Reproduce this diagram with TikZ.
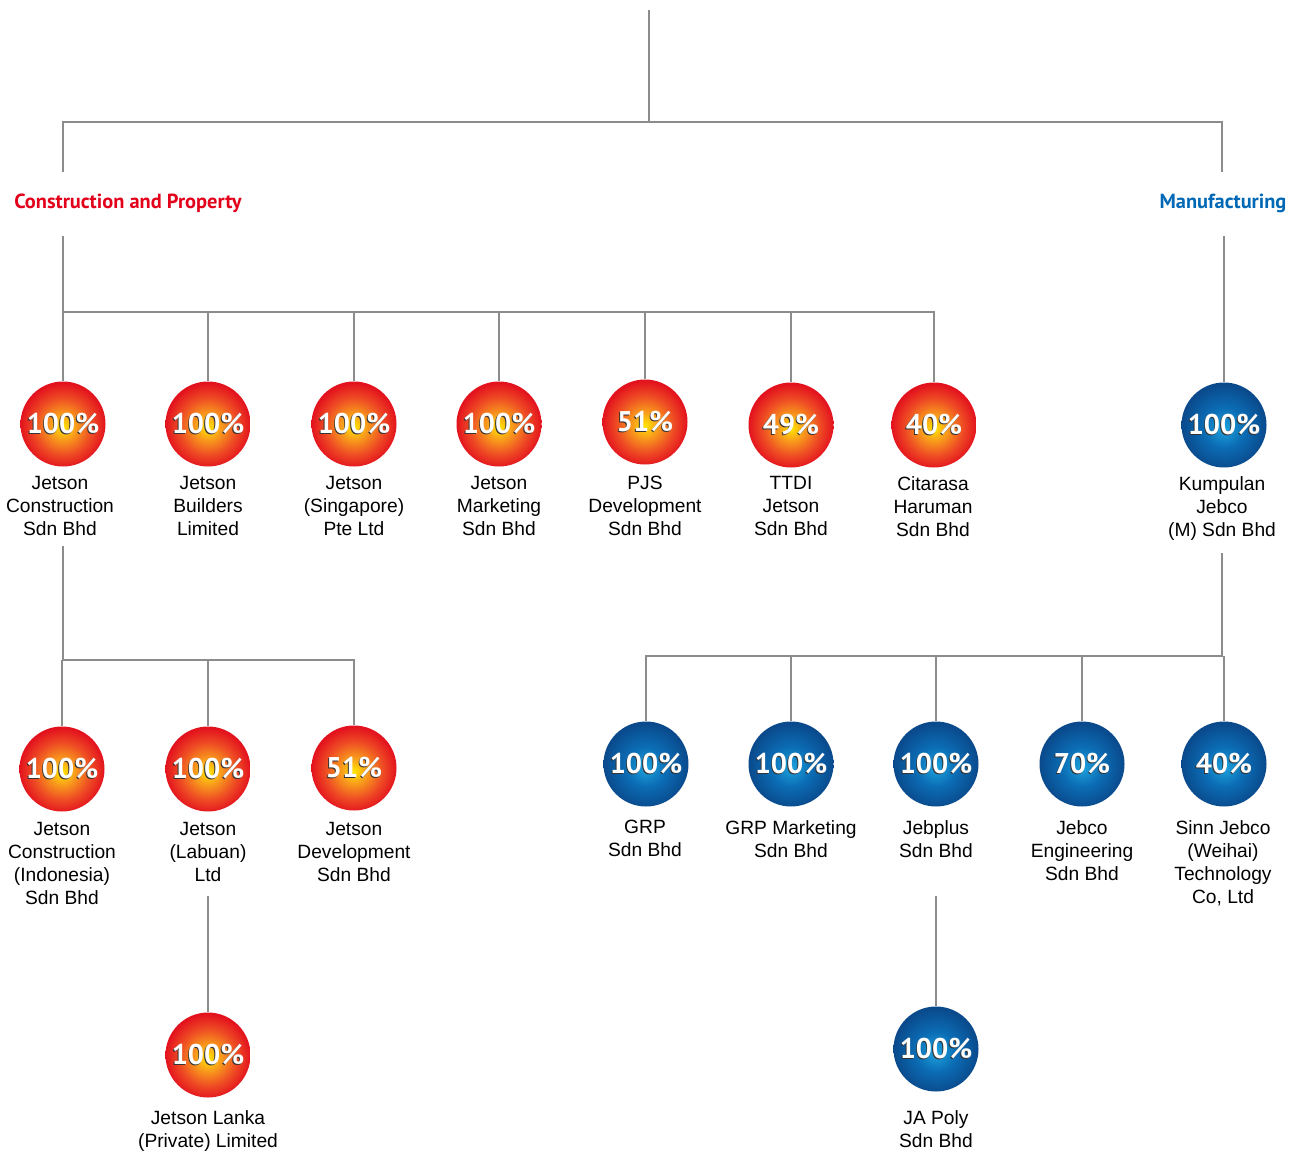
\documentclass[tikz,border=0pt]{standalone}
\usepackage{fontspec}
\setmainfont{Liberation Sans}
\newfontfamily\pctfont{PT Sans}[BoldFont={PT Sans Bold}]
\definecolor{linegray}{HTML}{8C8C8C}
\definecolor{hdred}{HTML}{E2001A}
\definecolor{hdblue}{HTML}{0068B4}
\definecolor{bally}{HTML}{FFE600}
\definecolor{ballo}{HTML}{F9A11B}
\definecolor{ballr}{HTML}{EE4B24}
\definecolor{ballrr}{HTML}{E3131E}
\definecolor{bluec}{HTML}{1DA3DD}
\definecolor{bluem}{HTML}{0B6CB4}
\definecolor{bluee}{HTML}{0A4A8C}
\pgfdeclareradialshading{ballred}{\pgfpoint{0bp}{-2bp}}{color(0bp)=(bally); color(7bp)=(ballo); color(17bp)=(ballr); color(25bp)=(ballrr); color(50bp)=(ballrr)}
\pgfdeclareradialshading{ballblue}{\pgfpoint{0bp}{-2bp}}{color(0bp)=(bluec); color(12bp)=(bluem); color(25bp)=(bluee); color(50bp)=(bluee)}
\newcommand{\pcttxt}[1]{\makebox[0pt]{\raisebox{-1.6pt}{\hspace{-1.8pt}\textcolor{black!80}{#1}}}\makebox[0pt]{\textcolor{white}{#1}}}
\begin{document}
\begin{tikzpicture}[x=1pt,y=-1pt,
  conn/.style={draw=linegray,line width=2.2pt},
  redball/.style={circle,minimum size=85pt,inner sep=0pt,shading=ballred,font=\pctfont\bfseries\fontsize{28.5}{28.5}\selectfont},
  blueball/.style={circle,minimum size=85pt,inner sep=0pt,shading=ballblue,font=\pctfont\bfseries\fontsize{28.5}{28.5}\selectfont},
  coname/.style={anchor=north,align=center,inner sep=0pt,font=\fontsize{19.2}{23}\selectfont},
  heading/.style={font=\pctfont\bfseries\fontsize{20.4}{22}\selectfont,inner sep=0pt}]
\useasboundingbox (0,0) rectangle (1298,1151);

% headings
\node[heading,text=hdred] (hcp) at (128,203) {Construction and Property};
\node[heading,text=hdblue] (hmf) at (1223,203) {Manufacturing};

% top row, construction
\node[redball] (c1) at (63,424) {\pcttxt{100\%}};
\node[redball] (c2) at (208,424) {\pcttxt{100\%}};
\node[redball] (c3) at (354,424) {\pcttxt{100\%}};
\node[redball] (c4) at (499,424) {\pcttxt{100\%}};
\node[redball] (c5) at (645,422) {\pcttxt{51\%}};
\node[redball] (c6) at (791,425) {\pcttxt{49\%}};
\node[redball] (c7) at (934,425) {\pcttxt{40\%}};
\node[coname] (n1) at (60,476) {Jetson\\Construction\\Sdn Bhd};
\node[coname] (n2) at (208,476) {Jetson\\Builders\\Limited};
\node[coname] (n3) at (354,476) {Jetson\\(Singapore)\\Pte Ltd};
\node[coname] (n4) at (499,476) {Jetson\\Marketing\\Sdn Bhd};
\node[coname] (n5) at (645,476) {PJS\\Development\\Sdn Bhd};
\node[coname] (n6) at (791,476) {TTDI\\Jetson\\Sdn Bhd};
\node[coname] (n7) at (933,476) {Citarasa\\Haruman\\Sdn Bhd};

% manufacturing top
\node[blueball] (m1) at (1224,425) {\pcttxt{100\%}};
\node[coname] (nm1) at (1222,476) {Kumpulan\\Jebco\\(M) Sdn Bhd};

% second row, construction
\node[redball] (d1) at (62,769) {\pcttxt{100\%}};
\node[redball] (d2) at (208,769) {\pcttxt{100\%}};
\node[redball] (d3) at (354,768) {\pcttxt{51\%}};
\node[coname] (nd1) at (62,822) {Jetson\\Construction\\(Indonesia)\\Sdn Bhd};
\node[coname] (nd2) at (208,822) {Jetson\\(Labuan)\\Ltd};
\node[coname] (nd3) at (354,822) {Jetson\\Development\\Sdn Bhd};

% third row
\node[redball] (e1) at (208,1055) {\pcttxt{100\%}};
\node[coname] (ne1) at (208,1110) {Jetson Lanka\\(Private) Limited};

% second row, manufacturing
\node[blueball] (b1) at (646,764) {\pcttxt{100\%}};
\node[blueball] (b2) at (791,764) {\pcttxt{100\%}};
\node[blueball] (b3) at (936,764) {\pcttxt{100\%}};
\node[blueball] (b4) at (1082,764) {\pcttxt{70\%}};
\node[blueball] (b5) at (1224,764) {\pcttxt{40\%}};
\node[coname] (nb1) at (645,820) {GRP\\Sdn Bhd};
\node[coname] (nb2) at (791,820) {GRP Marketing\\Sdn Bhd};
\node[coname] (nb3) at (936,820) {Jebplus\\Sdn Bhd};
\node[coname] (nb4) at (1082,820) {Jebco\\Engineering\\Sdn Bhd};
\node[coname] (nb5) at (1223,820) {Sinn Jebco\\(Weihai)\\Technology\\Co, Ltd};

\node[blueball] (f1) at (936,1049) {\pcttxt{100\%}};
\node[coname] (nf1) at (936,1110) {JA Poly\\Sdn Bhd};

% junction coordinates
\coordinate (root) at (649,10);
\coordinate (rootj) at (649,122);
\coordinate (cpj) at (63,122);
\coordinate (mfj) at (1222,122);
\coordinate (cpend) at (63,172);
\coordinate (mfend) at (1222,172);
\coordinate (cpstart) at (63,236);
\coordinate (mfstart) at (1224,236);
\coordinate (busA) at (63,312);
\coordinate (jcstart) at (63,546);
\coordinate (busB) at (63,660);
\coordinate (lbstart) at (208,896);
\coordinate (kjstart) at (1222,553);
\coordinate (busC) at (1222,656);
\coordinate (jpstart) at (936,896);

% connectors
\draw[conn] (root) -- (rootj);
\draw[conn] (cpend) -- (cpj) -- (mfj) -- (mfend);
\draw[conn] (cpstart) -- (busA) -- (busA -| c7.north) -- (c7.north);
\foreach \n in {c1,c2,c3,c4,c5,c6} \draw[conn] (busA -| \n.north) -- (\n.north);
\draw[conn] (mfstart) -- (m1.north);
\draw[conn] (jcstart) -- (busB) -- (busB -| d3.north) -- (d3.north);
\foreach \n in {d1,d2} \draw[conn] (busB -| \n.north) -- (\n.north);
\draw[conn] (lbstart) -- (e1.north);
\draw[conn] (kjstart) -- (busC) -- (busC -| b1.north) -- (b1.north);
\foreach \n in {b2,b3,b4,b5} \draw[conn] (busC -| \n.north) -- (\n.north);
\draw[conn] (jpstart) -- (f1.north);
\end{tikzpicture}
\end{document}
